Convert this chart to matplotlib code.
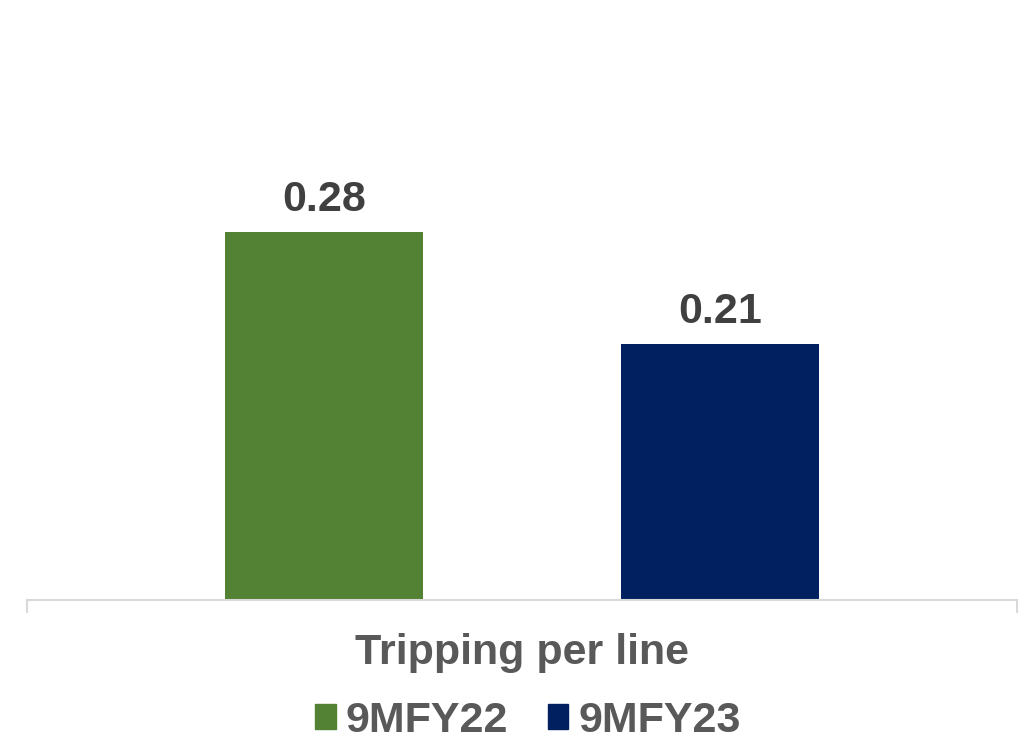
import matplotlib.pyplot as plt
from matplotlib.patches import Patch

# tripping per line, nine-month comparison
periods = ['9MFY22', '9MFY23']
values = [0.28, 0.21]
colors = ['#548235', '#002060']
category = 'Tripping per line'

plt.rcParams['font.family'] = ['Liberation Sans', 'DejaVu Sans']
fs = 31

fig = plt.figure(figsize=(10.31, 7.41), dpi=100)
ax = fig.add_axes([27 / 1031, 141 / 741, 990 / 1031, 600 / 741])

x = list(range(len(values)))
bars = ax.bar(x, values, width=0.5, color=colors)

for b, v in zip(bars, values):
    ax.text(b.get_x() + b.get_width() / 2, v + 0.0075, f'{v:.2f}',
            ha='center', va='bottom', fontsize=fs, fontweight='bold',
            color='#404040')

ax.set_xlim(-0.75, 1.75)
ax.set_ylim(0.05, 0.425)

for side in ['left', 'right', 'top']:
    ax.spines[side].set_visible(False)
ax.spines['bottom'].set_color('#d9d9d9')
ax.spines['bottom'].set_linewidth(1.5)
ax.set_yticks([])

# end ticks of the category axis
ax.set_xticks([-0.75, 1.75], labels=['', ''])
ax.tick_params(axis='x', which='major', direction='out', length=9.5,
               width=1.5, color='#d9d9d9')
ax.set_xticks([0.5], labels=[category], minor=True)
ax.tick_params(axis='x', which='minor', length=0, pad=24, labelsize=fs,
               labelcolor='#595959')
for lbl in ax.get_xticklabels(minor=True):
    lbl.set_fontweight('bold')

handles = [Patch(color=c, label=p) for c, p in zip(colors, periods)]
leg = fig.legend(handles=handles, loc='lower center',
                 bbox_to_anchor=(528 / 1031, -0.052), ncol=2, frameon=False,
                 handlelength=0.47, handleheight=0.51, handletextpad=0.23,
                 columnspacing=0.93, prop={'weight': 'bold', 'size': fs})
for t in leg.get_texts():
    t.set_color('#595959')

fig.savefig('out.png', dpi=100)
